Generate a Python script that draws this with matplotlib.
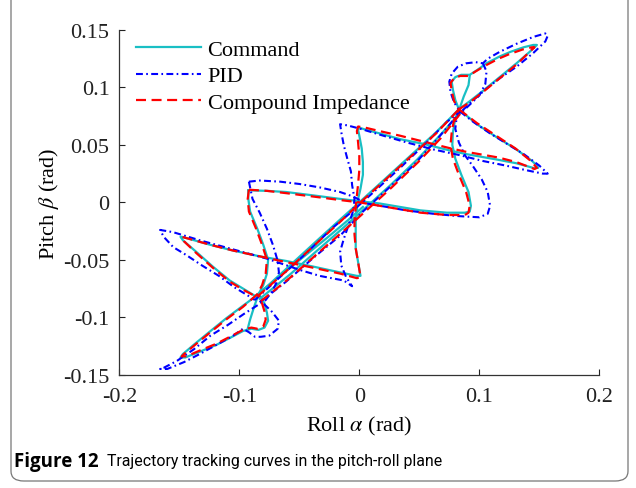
import matplotlib
matplotlib.use("Agg")
import matplotlib.pyplot as plt
from matplotlib.patches import FancyBboxPatch

plt.rcParams['font.family'] = ['Liberation Serif', 'DejaVu Serif']
plt.rcParams['mathtext.fontset'] = 'stix'
plt.rcParams['axes.unicode_minus'] = False

# ---------------- data (roll alpha, pitch beta) in rad ----------------
# Command (cyan) strands
cmd_tip1_a = [0.083, 0.092, 0.103, 0.117, 0.131, 0.142, 0.147, 0.148, 0.145, 0.137, 0.126, 0.117, 0.106, 0.098, 0.092, 0.085, 0.080, 0.077, 0.078, 0.080, 0.083]
cmd_tip1_b = [0.081, 0.088, 0.097, 0.109, 0.121, 0.131, 0.136, 0.137, 0.137, 0.135, 0.131, 0.127, 0.121, 0.115, 0.111, 0.111, 0.109, 0.105, 0.098, 0.089, 0.081]
cmd_loop1_a = [0.092, 0.091, 0.087, 0.084]
cmd_loop1_b = [0.110, 0.102, 0.092, 0.083]

cmd_main_a = [0.083, 0.098, 0.114, 0.131, 0.144, 0.148, 0.149, 0.145, 0.131, 0.116, 0.089, 0.076, 0.053, 0.034, 0.017, 0.006, 0.000,
              -0.001, 0.000, 0.002, 0.003, 0.003, 0.001, -0.001, -0.002, -0.003, -0.003, -0.003, -0.001, 0.001,
              -0.002, -0.016, -0.038, -0.061, -0.083, -0.105, -0.124, -0.141, -0.148, -0.149,
              -0.147, -0.136, -0.122, -0.108, -0.097, -0.086]
cmd_main_b = [0.081, 0.068, 0.057, 0.046, 0.036, 0.032, 0.030, 0.030, 0.034, 0.037, 0.042, 0.045, 0.051, 0.055, 0.060, 0.063, 0.065,
              0.063, 0.058, 0.047, 0.035, 0.024, 0.012, 0.003, -0.006, -0.017, -0.029, -0.040, -0.052, -0.064,
              -0.064, -0.061, -0.056, -0.051, -0.047, -0.042, -0.037, -0.032, -0.030, -0.030,
              -0.033, -0.043, -0.056, -0.068, -0.075, -0.082]

cmd_hor_a = [-0.0925, -0.077, -0.061, -0.038, -0.016, 0.000, 0.017, 0.034, 0.051, 0.073, 0.088, 0.092,
             0.093, 0.091, 0.085, 0.080, 0.0775, 0.078, 0.080, 0.083]
cmd_hor_b = [0.0105, 0.010, 0.009, 0.006, 0.003, 0.001, -0.001, -0.004, -0.007, -0.009, -0.009, -0.008,
             -0.003, 0.009, 0.024, 0.038, 0.050, 0.061, 0.073, 0.081]

cmd_low_a = [-0.0925, -0.0925, -0.091, -0.085, -0.080, -0.076, -0.077, -0.080, -0.084,
             -0.097, -0.111, -0.124, -0.138, -0.147, -0.149, -0.145, -0.133, -0.119, -0.106, -0.097, -0.090,
             -0.084, -0.079, -0.076, -0.077, -0.079, -0.083]
cmd_low_b = [0.0105, 0.003, -0.008, -0.023, -0.037, -0.050, -0.062, -0.072, -0.080,
             -0.090, -0.101, -0.112, -0.124, -0.132, -0.135, -0.135, -0.130, -0.124, -0.117, -0.112, -0.110,
             -0.111, -0.109, -0.103, -0.096, -0.088, -0.081]
cmd_loop4_a = [-0.093, -0.091, -0.088, -0.085]
cmd_loop4_b = [-0.110, -0.102, -0.092, -0.083]

cmd_diag1_a = [-0.084, -0.061, -0.036, -0.016, 0.000, 0.020, 0.042, 0.064, 0.083]
cmd_diag1_b = [-0.080, -0.058, -0.034, -0.015, 0.000, 0.019, 0.040, 0.061, 0.081]
cmd_diag2_a = [-0.083, -0.058, -0.033, -0.011, 0.006, 0.026, 0.048, 0.067, 0.084]
cmd_diag2_b = [-0.084, -0.063, -0.040, -0.020, -0.004, 0.015, 0.037, 0.058, 0.078]
cmd_diag3_a = [-0.086, -0.066, -0.046, -0.027, -0.010, 0.003]
cmd_diag3_b = [-0.081, -0.064, -0.047, -0.031, -0.016, -0.004]

# Compound impedance (red dashed) strands
ci_tip1_a = [0.083, 0.092, 0.103, 0.117, 0.131, 0.141, 0.146, 0.144, 0.136, 0.125, 0.116, 0.105, 0.097, 0.091, 0.084, 0.079, 0.076, 0.077, 0.079, 0.083]
ci_tip1_b = [0.081, 0.087, 0.096, 0.108, 0.120, 0.130, 0.135, 0.135, 0.133, 0.129, 0.125, 0.119, 0.114, 0.110, 0.110, 0.108, 0.104, 0.097, 0.088, 0.081]
ci_main_a = [0.083, 0.098, 0.114, 0.130, 0.143, 0.148, 0.146, 0.131, 0.116, 0.089, 0.076, 0.053, 0.034, 0.017, 0.005, -0.001,
             -0.002, -0.001, 0.000, 0.000, -0.001, -0.002, -0.003, -0.004, -0.004, -0.003, -0.001, 0.001,
             -0.002, -0.016, -0.038, -0.061, -0.083, -0.105, -0.124, -0.141, -0.148,
             -0.146, -0.136, -0.122, -0.108, -0.097, -0.086]
ci_main_b = [0.081, 0.069, 0.058, 0.047, 0.036, 0.030, 0.029, 0.035, 0.039, 0.044, 0.047, 0.053, 0.058, 0.062, 0.065, 0.066,
             0.062, 0.052, 0.040, 0.028, 0.016, 0.006, -0.004, -0.016, -0.028, -0.040, -0.052, -0.065,
             -0.066, -0.062, -0.057, -0.052, -0.047, -0.042, -0.037, -0.032, -0.030,
             -0.034, -0.044, -0.057, -0.069, -0.076, -0.082]
ci_hor_a = [-0.092, -0.077, -0.061, -0.038, -0.016, 0.000, 0.017, 0.034, 0.051, 0.073, 0.088, 0.091,
            0.092, 0.089, 0.083, 0.078, 0.076, 0.077, 0.079, 0.083]
ci_hor_b = [0.011, 0.010, 0.008, 0.005, 0.002, 0.000, -0.003, -0.006, -0.009, -0.011, -0.011, -0.009,
            -0.003, 0.009, 0.024, 0.038, 0.050, 0.061, 0.072, 0.081]
ci_low_a = [-0.092, -0.093, -0.092, -0.086, -0.081, -0.077, -0.078, -0.081, -0.085,
            -0.097, -0.111, -0.124, -0.138, -0.146, -0.148, -0.144, -0.133, -0.119, -0.106, -0.097, -0.090,
            -0.085, -0.080, -0.078, -0.079, -0.081, -0.084]
ci_low_b = [0.011, 0.003, -0.008, -0.023, -0.037, -0.050, -0.062, -0.072, -0.080,
            -0.091, -0.102, -0.113, -0.125, -0.132, -0.134, -0.134, -0.129, -0.123, -0.116, -0.111, -0.109,
            -0.110, -0.108, -0.102, -0.095, -0.088, -0.081]
ci_diag1_a = [-0.085, -0.061, -0.036, -0.016, 0.000, 0.020, 0.042, 0.064, 0.083]
ci_diag1_b = [-0.082, -0.060, -0.036, -0.017, -0.001, 0.018, 0.039, 0.060, 0.081]
ci_diag2_a = [-0.082, -0.057, -0.032, -0.010, 0.007, 0.027, 0.049, 0.068, 0.084]
ci_diag2_b = [-0.086, -0.065, -0.042, -0.022, -0.006, 0.013, 0.035, 0.056, 0.077]

# PID (blue dash-dot) strands
pid_tip1_a = [0.086, 0.095, 0.106, 0.117, 0.131, 0.145, 0.155, 0.157, 0.155, 0.145, 0.131, 0.117, 0.107, 0.103,
              0.097, 0.089, 0.082, 0.077, 0.075, 0.076, 0.079, 0.084]
pid_tip1_b = [0.080, 0.089, 0.099, 0.108, 0.118, 0.130, 0.140, 0.145, 0.147, 0.144, 0.138, 0.131, 0.125, 0.121,
              0.122, 0.121, 0.118, 0.112, 0.105, 0.096, 0.087, 0.079]
pid_loop1_a = [0.103, 0.106, 0.105, 0.100, 0.092, 0.086]
pid_loop1_b = [0.121, 0.114, 0.103, 0.093, 0.085, 0.079]
pid_main_a = [0.084, 0.095, 0.109, 0.123, 0.137, 0.150, 0.157, 0.153, 0.139, 0.122, 0.103, 0.084, 0.062, 0.040, 0.020, 0.001, -0.010, -0.016,
              -0.015, -0.013, -0.010, -0.007, -0.006, -0.004, -0.005, -0.009, -0.013, -0.016, -0.015, -0.011, -0.006,
              -0.013, -0.033, -0.049, -0.077, -0.105, -0.133, -0.155, -0.166,
              -0.163, -0.155, -0.144, -0.131, -0.117, -0.104, -0.093, -0.087]
pid_main_b = [0.079, 0.070, 0.060, 0.051, 0.042, 0.032, 0.025, 0.025, 0.028, 0.032, 0.036, 0.041, 0.046, 0.052, 0.058, 0.064, 0.067, 0.068,
              0.061, 0.050, 0.038, 0.027, 0.015, 0.003, -0.007, -0.020, -0.032, -0.043, -0.055, -0.065, -0.073,
              -0.068, -0.064, -0.059, -0.049, -0.041, -0.033, -0.026, -0.024,
              -0.030, -0.039, -0.046, -0.055, -0.064, -0.074, -0.081, -0.085]
pid_hor_a = [-0.092, -0.083, -0.066, -0.050, -0.033, -0.016, -0.005, 0.006, 0.023, 0.039, 0.062, 0.083, 0.100, 0.107,
             0.109, 0.107, 0.102, 0.095, 0.088, 0.083, 0.080, 0.081, 0.084]
pid_hor_b = [0.018, 0.019, 0.018, 0.016, 0.013, 0.009, 0.005, -0.001, -0.004, -0.007, -0.010, -0.012, -0.013, -0.010,
             -0.003, 0.009, 0.020, 0.031, 0.041, 0.052, 0.064, 0.073, 0.079]
pid_low_a = [-0.092, -0.089, -0.083, -0.077, -0.072, -0.068, -0.067, -0.069, -0.073, -0.078, -0.084,
             -0.096, -0.110, -0.124, -0.138, -0.152, -0.163, -0.166, -0.160, -0.146, -0.133, -0.119, -0.105, -0.097,
             -0.092, -0.087, -0.082, -0.075, -0.068, -0.067, -0.073, -0.080, -0.083]
pid_low_b = [0.018, 0.003, -0.009, -0.023, -0.037, -0.051, -0.061, -0.070, -0.078, -0.085, -0.089,
             -0.097, -0.107, -0.116, -0.128, -0.138, -0.144, -0.145, -0.145, -0.139, -0.132, -0.124, -0.116, -0.110,
             -0.113, -0.117, -0.117, -0.116, -0.110, -0.103, -0.095, -0.088, -0.085]
pid_diag1_a = [-0.087, -0.065, -0.044, -0.022, -0.005, 0.012, 0.034, 0.056, 0.073, 0.084]
pid_diag1_b = [-0.085, -0.064, -0.044, -0.022, -0.007, 0.009, 0.030, 0.052, 0.070, 0.079]
pid_diag2_a = [-0.083, -0.061, -0.038, -0.016, 0.003, 0.023, 0.045, 0.064, 0.082]
pid_diag2_b = [-0.087, -0.069, -0.048, -0.029, -0.008, 0.011, 0.032, 0.054, 0.076]

xticks = [-0.2, -0.1, 0, 0.1, 0.2]
xtick_labels = ['-0.2', '-0.1', '0', '0.1', '0.2']
yticks = [-0.15, -0.1, -0.05, 0, 0.05, 0.1, 0.15]
ytick_labels = ['-0.15', '-0.1', '-0.05', '0', '0.05', '0.1', '0.15']

# ---------------- figure ----------------
W, H = 636, 489
fig = plt.figure(figsize=(W / 100, H / 100), dpi=100)
ax = fig.add_axes([0.1876, 0.2317, 0.7547, 0.7049])

cyan = '#19bfc4'
cmd_sets = [(cmd_tip1_a, cmd_tip1_b), (cmd_loop1_a, cmd_loop1_b), (cmd_main_a, cmd_main_b),
            (cmd_hor_a, cmd_hor_b), (cmd_low_a, cmd_low_b), (cmd_loop4_a, cmd_loop4_b),
            (cmd_diag1_a, cmd_diag1_b), (cmd_diag2_a, cmd_diag2_b), (cmd_diag3_a, cmd_diag3_b)]
pid_sets = [(pid_tip1_a, pid_tip1_b), (pid_loop1_a, pid_loop1_b), (pid_main_a, pid_main_b),
            (pid_hor_a, pid_hor_b), (pid_low_a, pid_low_b), (pid_diag1_a, pid_diag1_b), (pid_diag2_a, pid_diag2_b)]
ci_sets = [(ci_tip1_a, ci_tip1_b), (ci_main_a, ci_main_b), (ci_hor_a, ci_hor_b), (ci_low_a, ci_low_b),
           (ci_diag1_a, ci_diag1_b), (ci_diag2_a, ci_diag2_b)]

for i, (a, b) in enumerate(cmd_sets):
    ax.plot(a, b, '-', color=cyan, lw=1.6, label='Command' if i == 0 else None, zorder=2)
for i, (a, b) in enumerate(pid_sets):
    ax.plot(a, b, color='#0000ff', lw=1.5, dashes=(3.3, 1.6, 0.8, 1.6), label='PID' if i == 0 else None, zorder=3)
for i, (a, b) in enumerate(ci_sets):
    ax.plot(a, b, color='#ff0000', lw=1.6, dashes=(4.5, 2.5), label='Compound Impedance' if i == 0 else None, zorder=4)

ax.set_xlim(-0.2, 0.2)
ax.set_ylim(-0.15, 0.15)
ax.set_xticks(xticks)
ax.set_xticklabels(xtick_labels)
ax.set_yticks(yticks)
ax.set_yticklabels(ytick_labels)
ax.tick_params(direction='in', length=4, width=0.8, labelsize=16, colors='#222222')
ax.tick_params(axis='x', pad=8.5)
ax.tick_params(axis='y', pad=7)
for s in ['top', 'right']:
    ax.spines[s].set_visible(False)
for s in ['left', 'bottom']:
    ax.spines[s].set_color('#333333')
    ax.spines[s].set_linewidth(0.9)

ax.set_xlabel(r'Roll $\alpha$ (rad)', fontsize=16, labelpad=6)
ax.set_ylabel(r'Pitch $\beta$ (rad)', fontsize=16, labelpad=1.5)

leg = ax.legend(loc='upper left', bbox_to_anchor=(6 / 480, 1 + 2 / 345), frameon=False, fontsize=16,
                handlelength=2.9, borderaxespad=0.2, borderpad=0.3, labelspacing=0.28, handletextpad=0.3)

# caption + rounded border (top edge outside the picture)
border = FancyBboxPatch((11 / W, 1 - 482 / H), 617 / W, 0.2 + 482 / H,
                        boxstyle='round,pad=0,rounding_size=0.02', transform=fig.transFigure,
                        fill=False, edgecolor='#777777', lw=0.9, clip_on=False)
fig.patches.append(border)
cap_y = 1 - 462 / H
t1 = fig.text(14 / W, cap_y, 'Figure 12', fontsize=13.5, fontweight='bold',
              family=['Open Sans', 'DejaVu Sans'], va='center', ha='left')
fig.canvas.draw()
bb = t1.get_window_extent(renderer=fig.canvas.get_renderer())
fig.text((bb.x1 + 8) / W, cap_y, 'Trajectory tracking curves in the pitch-roll plane', fontsize=11.4,
         family=['Roboto', 'DejaVu Sans'], va='center', ha='left')

fig.savefig('out.png', dpi=100)
